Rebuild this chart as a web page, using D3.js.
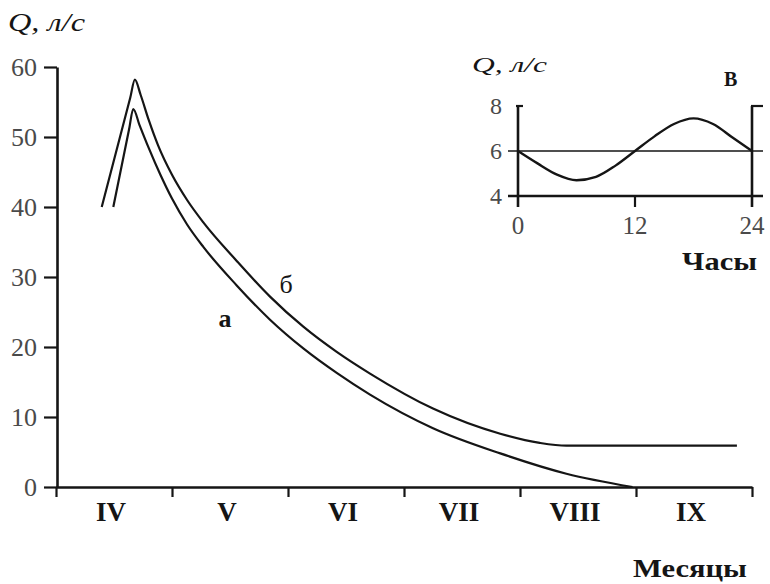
<!DOCTYPE html>
<html><head><meta charset="utf-8">
<script src="https://cdn.jsdelivr.net/npm/d3@7"></script>
<style>html,body{margin:0;padding:0;background:#fff;}svg{display:block;}</style>
</head><body>
<svg id="c" width="770" height="584"></svg>
<script>
// ---- data ----
const months = ["IV","V","VI","VII","VIII","IX"];
const yTicks = [0,10,20,30,40,50,60];
// curve б (upper): [month position from start of April, Q l/s]
const curveB_x = [0.394,0.64,0.68,0.73,0.80,0.88,1.0,1.13,1.27,1.558,1.845,2.132,2.42,2.707,3.25,3.83,4.17,4.4,5.87];
const curveB_y = [40.0,55.6,58.2,56.0,52.4,48.8,44.6,41.0,37.8,32.3,27.2,22.9,19.3,16.2,11.2,7.6,6.3,5.9,5.9];
// curve а (lower)
const curveA_x = [0.494,0.63,0.666,0.72,0.80,0.90,1.0,1.13,1.27,1.558,1.845,2.132,2.42,2.707,3.25,3.83,4.40,4.97];
const curveA_y = [40.0,51.1,54.0,51.7,48.4,44.6,41.2,37.5,34.3,28.8,23.9,19.8,16.3,13.2,8.4,4.8,1.9,0];
// inset (В): hours vs Q
const insetHours = [0,2,4,6,8,10,12,14,16,18,20,22,24];
const insetQ = [6.0,5.45,4.95,4.7,4.85,5.35,6.0,6.65,7.2,7.45,7.2,6.6,6.0];
const insetYTicks = [4,6,8];
const insetXTicks = [0,12,24];

const svg = d3.select("#c");
const ink = "#151515";
const grey = "#4a4a4a";
const serif = "'Liberation Serif','Times New Roman',serif";

// ---- main chart ----
const x = d3.scaleLinear().domain([0,6]).range([56,752]);
const y = d3.scaleLinear().domain([0,60]).range([487,67]);

const yAx = svg.append("g").attr("transform","translate(57,0)")
  .call(d3.axisLeft(y).tickValues(yTicks).tickSize(13).tickSizeOuter(0).tickPadding(7).tickFormat(d3.format("d")));
yAx.select(".domain").attr("stroke",ink).attr("stroke-width",2.6);
yAx.selectAll(".tick line").attr("stroke",ink).attr("stroke-width",2.2);
yAx.selectAll(".tick text").attr("font-family",serif).attr("font-size",26).attr("fill",grey);

const xAx = svg.append("g").attr("transform","translate(0,487)")
  .call(d3.axisBottom(x).tickValues(d3.range(0,7)).tickSize(10).tickSizeOuter(0).tickFormat(""));
xAx.select(".domain").attr("stroke",ink).attr("stroke-width",2.6);
xAx.selectAll(".tick line").attr("stroke",ink).attr("stroke-width",2.2);

svg.append("g").selectAll("text").data(months).join("text")
  .attr("x",(d,i)=>x(i+0.5)-3).attr("y",521)
  .attr("text-anchor","middle").attr("font-family",serif).attr("font-weight","bold")
  .attr("font-size",27).attr("fill",ink).text(d=>d);

const line = d3.line().x(d=>x(d[0])).y(d=>y(d[1])).curve(d3.curveMonotoneX);
const dataB = curveB_x.map((v,i)=>[v,curveB_y[i]]);
const dataA = curveA_x.map((v,i)=>[v,curveA_y[i]]);
svg.append("path").datum(dataB).attr("d",line).attr("fill","none").attr("stroke",ink).attr("stroke-width",2.2);
svg.append("path").datum(dataA).attr("d",line).attr("fill","none").attr("stroke",ink).attr("stroke-width",2.2);

svg.append("text").attr("x",286).attr("y",293).attr("text-anchor","middle")
  .attr("font-family",serif).attr("font-size",26).attr("fill",ink).text("б");
svg.append("text").attr("x",225).attr("y",327).attr("text-anchor","middle")
  .attr("font-family",serif).attr("font-weight","bold").attr("font-size",26).attr("fill",ink).text("а");

svg.append("text").attr("x",8).attr("y",31).attr("font-family",serif).attr("font-style","italic")
  .attr("font-size",25).attr("fill",ink).attr("textLength",77).attr("lengthAdjust","spacingAndGlyphs").text("Q, л/с");
svg.append("text").attr("x",633).attr("y",577).attr("font-family",serif).attr("font-weight","bold")
  .attr("font-size",26).attr("fill",ink).attr("textLength",114).attr("lengthAdjust","spacingAndGlyphs").text("Месяцы");

// ---- inset ----
const xi = d3.scaleLinear().domain([0,24]).range([518,752]);
const yi = d3.scaleLinear().domain([4,8]).range([196,106]);
const gi = svg.append("g");
[0,24].forEach(h=>{
  gi.append("line").attr("x1",xi(h)).attr("x2",xi(h)).attr("y1",yi(8)).attr("y2",207)
    .attr("stroke",ink).attr("stroke-width",2.6);
});
gi.append("line").attr("x1",xi(0)-2).attr("x2",xi(0)+5).attr("y1",yi(8)).attr("y2",yi(8)).attr("stroke",ink).attr("stroke-width",2.2);
gi.append("line").attr("x1",xi(24)-1).attr("x2",xi(24)+11).attr("y1",yi(8)).attr("y2",yi(8)).attr("stroke",ink).attr("stroke-width",2.2);
gi.append("line").attr("x1",508).attr("x2",763).attr("y1",yi(6)).attr("y2",yi(6)).attr("stroke",ink).attr("stroke-width",1.6);
gi.append("line").attr("x1",508).attr("x2",763).attr("y1",yi(4)).attr("y2",yi(4)).attr("stroke",ink).attr("stroke-width",2.4);
gi.append("line").attr("x1",xi(12)).attr("x2",xi(12)).attr("y1",yi(4)).attr("y2",207).attr("stroke",ink).attr("stroke-width",2.2);
gi.selectAll("text.yt").data(insetYTicks).join("text").attr("class","yt")
  .attr("x",502).attr("y",d=>yi(d)+8).attr("text-anchor","end")
  .attr("font-family",serif).attr("font-size",24).attr("fill",grey).text(d=>d);
gi.selectAll("text.xt").data(insetXTicks).join("text").attr("class","xt")
  .attr("x",d=>xi(d)).attr("y",234).attr("text-anchor","middle")
  .attr("font-family",serif).attr("font-size",25).attr("fill",grey).text(d=>d);
const lineI = d3.line().x(d=>xi(d[0])).y(d=>yi(d[1])).curve(d3.curveMonotoneX);
gi.append("path").datum(insetHours.map((h,i)=>[h,insetQ[i]])).attr("d",lineI)
  .attr("fill","none").attr("stroke",ink).attr("stroke-width",2.4);
gi.append("text").attr("x",472).attr("y",72).attr("font-family",serif).attr("font-style","italic")
  .attr("font-size",22).attr("fill",ink).attr("textLength",75).attr("lengthAdjust","spacingAndGlyphs").text("Q, л/с");
gi.append("text").attr("x",724).attr("y",86).attr("font-family",serif).attr("font-weight","bold")
  .attr("font-size",20).attr("fill",ink).text("В");
gi.append("text").attr("x",682).attr("y",270).attr("font-family",serif).attr("font-weight","bold")
  .attr("font-size",25).attr("fill",ink).attr("textLength",75).attr("lengthAdjust","spacingAndGlyphs").text("Часы");
</script>
</body></html>
